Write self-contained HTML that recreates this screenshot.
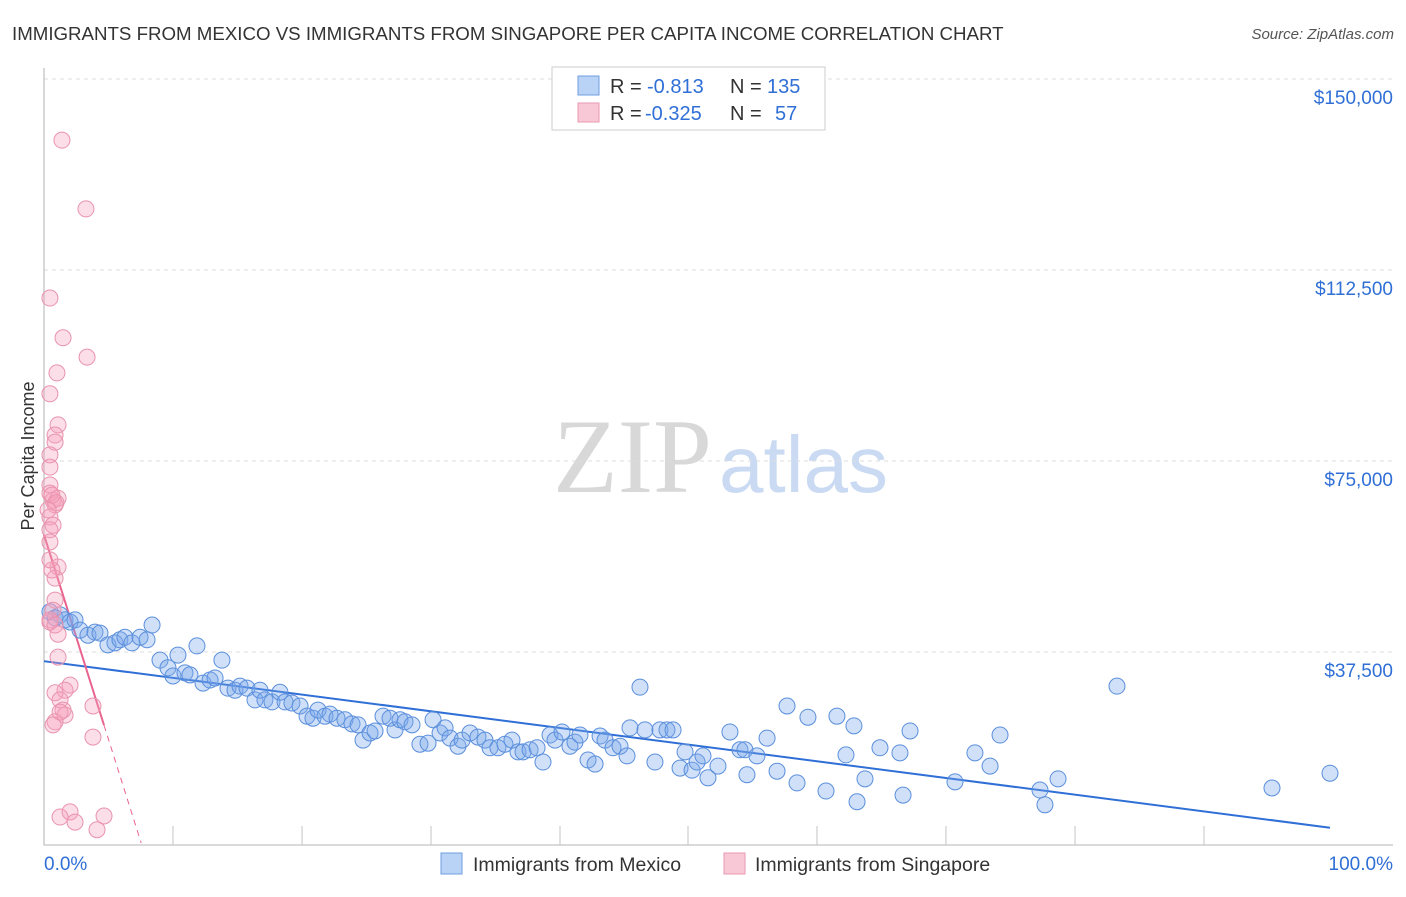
<!DOCTYPE html>
<html><head><meta charset="utf-8"><style>
body{margin:0;background:#fff;font-family:"Liberation Sans",sans-serif;}
</style></head><body>
<svg id="chart" width="1406" height="892" xmlns="http://www.w3.org/2000/svg" font-family="Liberation Sans, sans-serif">
<text x="12" y="40" font-size="18.7" fill="#333">IMMIGRANTS FROM MEXICO VS IMMIGRANTS FROM SINGAPORE PER CAPITA INCOME CORRELATION CHART</text>
<text x="1394" y="39" font-size="15" fill="#555" text-anchor="end" font-style="italic">Source: ZipAtlas.com</text>
<text transform="translate(34,456) rotate(-90)" font-size="18" fill="#333" text-anchor="middle">Per Capita Income</text>
<g><text x="553" y="492" font-size="106" fill="#d8d8d8" font-family="Liberation Serif, serif">ZIP</text><text x="719" y="492" font-size="80" fill="#c9daf2">atlas</text></g>
<g id="grid"></g><g id="axes"></g><g id="trends"></g><g id="points"></g>
<g>
<rect x="552" y="67" width="273" height="63" fill="#fff" stroke="#ccc"/>
<rect x="578" y="76" width="21" height="19" fill="#b8d3f5" stroke="#6f9de0"/>
<text x="610" y="93" font-size="20" fill="#333">R =</text><text x="647" y="93" font-size="20" fill="#2f6fd6">-0.813</text><text x="730" y="93" font-size="20" fill="#333">N =</text><text x="767" y="93" font-size="20" fill="#2f6fd6">135</text>
<rect x="578" y="103" width="21" height="19" fill="#f9c8d6" stroke="#ea98b2"/>
<text x="610" y="120" font-size="20" fill="#333">R =</text><text x="645" y="120" font-size="20" fill="#2f6fd6">-0.325</text><text x="730" y="120" font-size="20" fill="#333">N =</text><text x="775" y="120" font-size="20" fill="#2f6fd6">57</text>
</g>
<g>
<rect x="441" y="853" width="21" height="21" fill="#b8d3f5" stroke="#6f9de0"/>
<text x="473" y="871" font-size="19.5" fill="#333">Immigrants from Mexico</text>
<rect x="724" y="853" width="21" height="21" fill="#f9c8d6" stroke="#ea98b2"/>
<text x="755" y="871" font-size="19.5" fill="#333">Immigrants from Singapore</text>
</g>
</svg>
<script>
const yTicks=[37.5,75,112.5,150];
const yTickLabels=["$37,500","$75,000","$112,500","$150,000"];
const xTicks=[0,9.56,19.13,28.69,38.25,47.74,57.3,66.86,76.43,85.99];
const xLabels=["0.0%","100.0%"];
const mexX=[.44,.82,1.19,1.56,1.93,2.30,2.67,3.26,3.78,4.15,4.74,5.26,5.63,6.00,6.52,7.12,7.64,8.01,8.60,9.19,9.56,9.93,10.45,10.82,11.34,11.79,12.31,12.68,13.19,13.64,14.16,14.53,15.05,15.64,16.01,16.38,16.90,17.49,17.87,18.38,18.98,19.50,19.94,20.31,20.83,21.20,21.72,22.31,22.83,23.28,23.65,24.17,24.54,25.13,25.65,26.02,26.39,26.76,27.28,27.87,28.47,28.84,29.36,29.73,30.10,30.69,30.99,31.58,32.17,32.69,33.06,33.65,34.17,34.69,35.14,35.51,36.03,36.55,36.99,37.51,37.88,38.40,38.99,39.36,39.73,40.33,40.85,41.22,41.59,42.18,42.70,43.22,43.44,44.18,44.55,45.29,45.66,46.18,46.63,47.15,47.52,48.04,48.41,48.85,49.22,49.96,50.85,51.59,51.96,52.11,52.85,53.60,54.34,55.08,55.82,56.63,57.97,58.78,59.45,60.04,60.27,60.86,61.97,63.45,63.68,64.20,67.53,69.01,70.13,70.87,73.83,74.20,75.17,79.54,91.03,95.33];
const mexY=[45.4,44.2,44.8,43.8,43.4,43.8,41.8,40.8,41.4,41.2,38.9,39.3,39.9,40.4,39.3,40.4,39.9,42.8,35.9,34.4,32.8,36.9,33.4,33.0,38.7,31.4,32.0,32.4,35.9,30.4,30.0,30.8,30.4,28.1,30.0,28.1,27.7,29.6,27.7,27.5,26.9,24.9,24.5,26.1,24.9,25.3,24.5,24.2,23.4,23.2,20.2,21.6,22.0,24.9,24.5,22.2,24.2,23.8,23.2,19.4,19.6,24.2,21.6,22.6,20.6,19.0,20.2,21.6,20.8,20.2,18.7,18.7,19.4,20.2,17.9,17.9,18.3,18.7,15.9,21.2,20.2,21.8,19.0,19.8,21.2,16.3,15.5,21.0,20.2,18.7,19.0,17.1,22.6,30.6,22.2,15.9,22.2,22.2,22.2,14.7,17.9,14.3,15.9,17.1,12.8,15.1,21.8,18.3,18.3,13.4,17.1,20.6,14.1,26.9,11.8,24.7,10.2,24.9,17.3,23.0,8.1,12.6,18.7,17.7,9.4,22.0,12.0,17.7,15.1,21.2,10.4,7.5,12.6,30.8,10.8,13.7];
const sgpX=[1.33,3.11,.44,1.41,3.19,.96,.44,1.04,.82,.82,.44,.44,.44,.44,.67,1.04,.82,.44,.67,.44,.44,1.04,.82,.82,.67,.44,1.04,1.04,1.93,1.56,.82,1.19,1.41,1.56,.82,3.63,3.63,1.19,1.93,2.30,4.45,3.93,.44,.82,.59,.44,.59,.89,.30,1.19,.67];
const sgpY=[138.0,124.5,107.0,99.2,95.4,92.3,88.2,82.1,80.1,78.7,76.2,73.8,70.3,68.7,67.3,67.7,66.4,64.0,62.4,61.5,59.1,54.2,52.0,47.7,45.7,43.4,41.0,36.5,31.0,30.0,29.5,28.1,26.1,25.1,23.8,26.9,20.8,5.1,6.1,4.1,5.3,2.6,43.8,42.8,53.6,55.6,68.3,66.8,65.4,25.7,23.2];
const mexTrend=[35.7,-0.343];
const sgpTrend=[60.5,-8.4];
const NS="http://www.w3.org/2000/svg";
const X0=44,XW=13.49,Y0=843,YK=5.093;
const sx=v=>X0+v*XW, sy=v=>Y0-v*YK;
function mk(tag,attrs,parent){const e=document.createElementNS(NS,tag);for(const k in attrs)e.setAttribute(k,attrs[k]);document.getElementById(parent).appendChild(e);return e;}
yTicks.forEach((t,i)=>{
 const l=mk('line',{x1:44,x2:1393,y1:sy(t),y2:sy(t),stroke:'#ddd','stroke-dasharray':'4,4'},'grid');
 
 
 const tx=mk('text',{x:1393,y:sy(t)+25,'font-size':19,fill:'#2f6fd6','text-anchor':'end'},'grid');
 tx.textContent=yTickLabels[i];
 
 
});
const ax=mk('path',{d:'M44,68V845H1393',fill:'none',stroke:'#c4c4c4','stroke-width':1.3},'axes');


xTicks.forEach(t=>{
 const l=mk('line',{x1:sx(t),x2:sx(t),y1:826,y2:845,stroke:'#c4c4c4'},'axes');
 
 
});
const xl0=mk('text',{x:44,y:870,'font-size':19,fill:'#2f6fd6'},'axes');xl0.textContent=xLabels[0];


const xl1=mk('text',{x:1393,y:870,'font-size':19,fill:'#2f6fd6','text-anchor':'end'},'axes');xl1.textContent=xLabels[1];


mexX.forEach((x,i)=>{
 const c=mk('circle',{cx:sx(x),cy:sy(mexY[i]),r:8,fill:'rgba(120,165,235,0.35)',stroke:'#5b8fdc','stroke-width':1},'points');
 
 
});
sgpX.forEach((x,i)=>{
 const c=mk('circle',{cx:sx(x),cy:sy(sgpY[i]),r:8,fill:'rgba(245,160,190,0.35)',stroke:'#e993ae','stroke-width':1},'points');
 
 
});
const mx=Math.max(...mexX);
const bl=mk('line',{x1:sx(0),y1:sy(mexTrend[0]),x2:sx(mx),y2:sy(mexTrend[0]+mexTrend[1]*mx),stroke:'#2f6fd6','stroke-width':2},'trends');


const px=Math.max(...sgpX), pz=-sgpTrend[0]/sgpTrend[1];
const pl=mk('line',{x1:sx(0),y1:sy(sgpTrend[0]),x2:sx(px),y2:sy(sgpTrend[0]+sgpTrend[1]*px),stroke:'#e8648e','stroke-width':2},'trends');


const pd=mk('line',{x1:sx(px),y1:sy(sgpTrend[0]+sgpTrend[1]*px),x2:sx(pz),y2:sy(0),stroke:'#e8648e','stroke-width':1,'stroke-dasharray':'6,5'},'trends');


</script>
</body></html>
